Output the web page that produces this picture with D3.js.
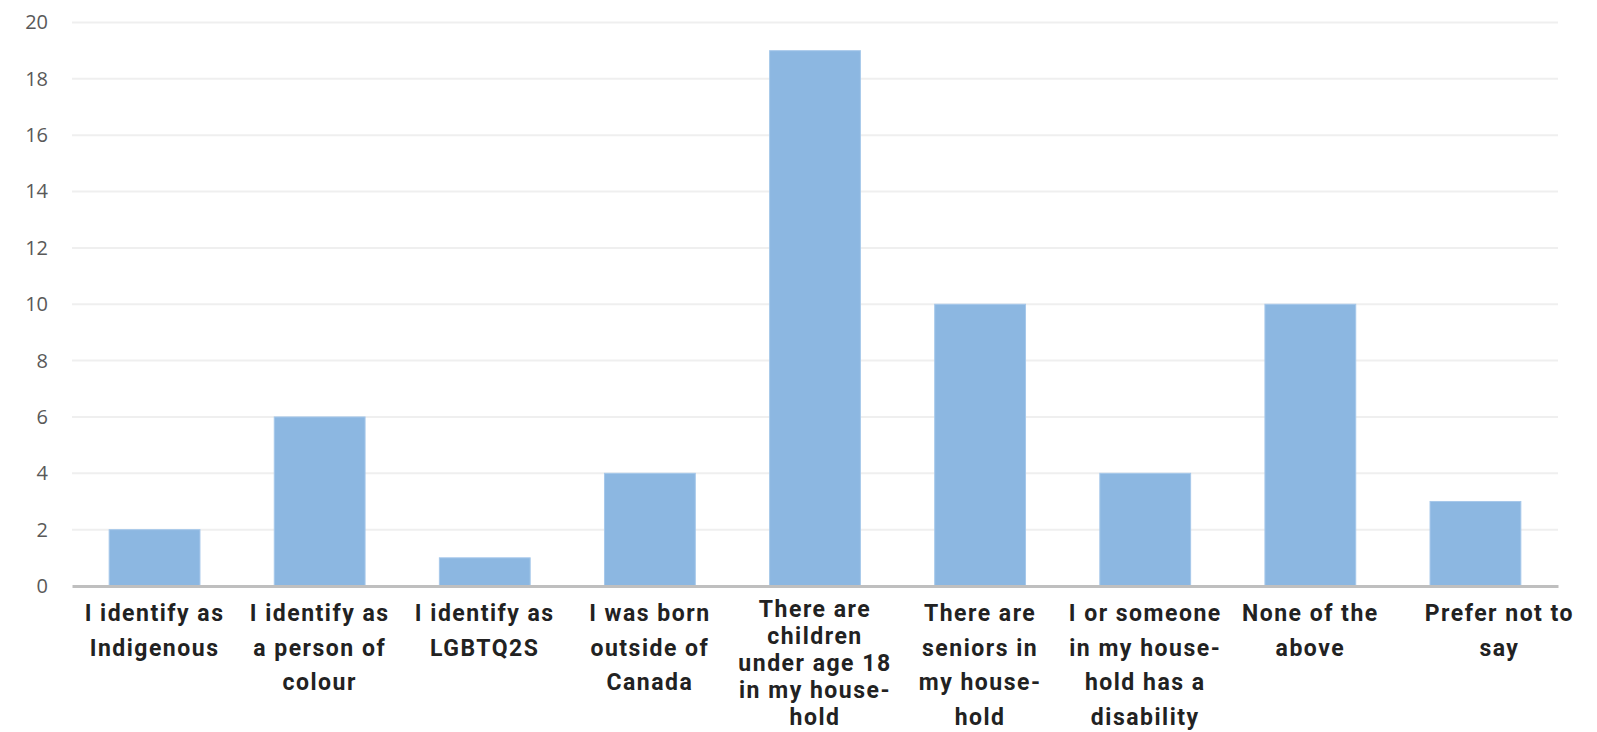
<!DOCTYPE html>
<html><head><meta charset="utf-8">
<script src="https://cdn.jsdelivr.net/npm/d3@7"></script>
<style>body{margin:0;background:#fff}</style>
</head><body>
<svg id="c" width="1597" height="732"></svg>
<script>
const categories = [
  ["I identify as","Indigenous"],
  ["I identify as","a person of","colour"],
  ["I identify as","LGBTQ2S"],
  ["I was born","outside of","Canada"],
  ["There are","children","under age 18","in my house-","hold"],
  ["There are","seniors in","my house-","hold"],
  ["I or someone","in my house-","hold has a","disability"],
  ["None of the","above"],
  ["Prefer not to","say"]
];
const values = [2, 6, 1, 4, 19, 10, 4, 10, 3];
const yTicks = [0, 2, 4, 6, 8, 10, 12, 14, 16, 18, 20];

(function () {
const svg = d3.select("#c");
const mLeft = 72, mRight = 1558, mTop = 22.5, mBottom = 586;
const idx = categories.map((d, i) => i);
const x = d3.scaleBand().domain(idx).range([mLeft, mRight]).paddingInner(0.45).paddingOuter(0.225);
const y = d3.scaleLinear().domain([0, 20]).range([mBottom, mTop]);

svg.append("g").selectAll("line").data(yTicks.filter(t => t > 0)).join("line")
  .attr("x1", mLeft).attr("x2", mRight)
  .attr("y1", d => y(d)).attr("y2", d => y(d))
  .attr("stroke", "#efefef").attr("stroke-width", 2);

const ya = svg.append("g").attr("transform", `translate(${mLeft},0)`)
  .call(d3.axisLeft(y).tickValues(yTicks).tickSize(0).tickPadding(24));
ya.select(".domain").remove();
ya.selectAll("text").attr("font-family", "Open Sans").attr("font-size", 20).attr("fill", "#595959");

svg.append("g").selectAll("rect").data(values).join("rect")
  .attr("x", (d, i) => x(i)).attr("width", x.bandwidth())
  .attr("y", d => y(d)).attr("height", d => mBottom - y(d))
  .attr("fill", "#8cb7e1").attr("stroke", "#a6c8ea").attr("stroke-width", 1);

const xa = svg.append("g").attr("transform", `translate(0,${mBottom})`)
  .call(d3.axisBottom(x).tickSize(0).tickFormat(""));
xa.select(".domain").attr("stroke", "#bfbfbf").attr("stroke-width", 3);

const lg = svg.append("g");
categories.forEach((lines, i) => {
  const n = lines.length;
  const spacing = n >= 5 ? 27 : 34.5;
  const first = n >= 5 ? 617 : 621;
  const shift = i === categories.length - 1 ? 24 : 0;
  const cx = x(i) + x.bandwidth() / 2 + shift;
  const t = lg.append("text")
    .attr("text-anchor", "middle")
    .attr("font-family", "Roboto").attr("font-weight", "bold")
    .attr("font-size", 23).attr("letter-spacing", 1.5).attr("fill", "#222");
  lines.forEach((l, j) => {
    t.append("tspan").attr("x", cx).attr("y", first + j * spacing).text(l);
  });
});
})();
</script>
</body></html>
